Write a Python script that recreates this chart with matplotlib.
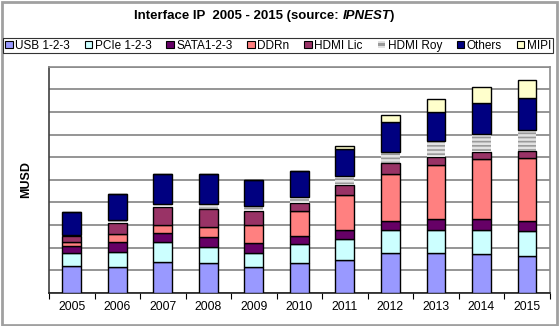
import matplotlib
matplotlib.use("Agg")
import matplotlib.pyplot as plt
from matplotlib.patches import Patch, Rectangle
import numpy as np

plt.rcParams['font.family'] = ['Liberation Sans', 'DejaVu Sans']

years = ['2005', '2006', '2007', '2008', '2009', '2010',
         '2011', '2012', '2013', '2014', '2015']

# MUSD per segment
usb = [59, 58, 68, 65, 56, 65, 72, 89, 87, 86, 81]
pcie = [28, 32, 44, 37, 33, 42, 46, 49, 52, 53, 55]
sata = [17, 22, 20, 21, 20, 18, 21, 20, 24, 24, 23]
ddr = [9, 18, 19, 23, 40, 56, 78, 104, 120, 133, 140]
hdmi_lic = [13, 25, 38, 40, 32, 18, 21, 25, 18, 15, 14]
hdmi_roy = [1, 5, 7, 10, 11, 13, 21, 24, 35, 41, 48]
others = [52, 58, 66, 66, 57, 58, 59, 66, 65, 69, 69]
mipi = [0, 0, 0, 0, 0, 0, 6, 17, 27, 34, 40]

series = [
    ('USB 1-2-3', usb, '#9999ff'),
    ('PCIe 1-2-3', pcie, '#ccffff'),
    ('SATA1-2-3', sata, '#660066'),
    ('DDRn', ddr, '#ff8080'),
    ('HDMI Lic', hdmi_lic, '#993366'),
    ('HDMI Roy', hdmi_roy, '#9a9a9a'),
    ('Others', others, '#000080'),
    ('MIPI', mipi, '#ffffcc'),
]

plt.rcParams['hatch.linewidth'] = 1.8

fig = plt.figure(figsize=(5.59, 3.26), dpi=100)
ax = fig.add_axes([0.0877, 0.102, 0.8955, 0.693])

x = np.arange(len(years))
bottom = np.zeros(len(years))
handles = []
for name, vals, col in series:
    vals = np.array(vals, dtype=float)
    if name == 'HDMI Roy':
        ax.bar(x, vals, 0.41, bottom=bottom, color=col, edgecolor='#e2e2e2',
               linewidth=0, hatch='----', zorder=3)
        handles.append(Patch(facecolor=col, edgecolor='#e2e2e2', hatch='---',
                             linewidth=0, label=name))
    else:
        ax.bar(x, vals, 0.41, bottom=bottom, color=col, edgecolor='black',
               linewidth=1.0, zorder=3)
        handles.append(Patch(facecolor=col, edgecolor='black', linewidth=0.8,
                             label=name))
    bottom += vals

ax.set_xlim(-0.5, 10.5)
ax.set_ylim(0, 500)
ax.set_yticks(np.arange(0, 501, 50))
ax.set_yticklabels([])
ax.tick_params(axis='y', length=0)
ax.yaxis.grid(True, color='#8c8c8c', linewidth=1.3, zorder=0)
ax.set_axisbelow(True)

ax.set_xticks(x)
ax.set_xticklabels(years, fontsize=8.8)
ax.set_xticks(np.arange(-0.5, 11, 1), minor=True)
ax.tick_params(axis='x', which='major', length=0, pad=6)
ax.tick_params(axis='x', which='minor', length=4, width=0.8, direction='out')

ax.spines['left'].set_color('#404040')
ax.spines['bottom'].set_color('#202020')
ax.spines['top'].set_color('#8c8c8c')
ax.spines['right'].set_color('#8c8c8c')
for s in ax.spines.values():
    s.set_linewidth(1.2)

ax.set_ylabel('MUSD', fontsize=9, fontweight='bold', labelpad=9)

# title: bold text with bold italic source name
renderer = fig.canvas.get_renderer()
t1 = fig.text(0.24, 0.952, 'Interface IP  2005 - 2015 (source: ', fontsize=9.5,
              fontweight='bold', va='center', ha='left')
bb = t1.get_window_extent(renderer=renderer)
x2 = bb.x1 / fig.bbox.width
t2 = fig.text(x2, 0.952, 'IPNEST', fontsize=9.5, fontweight='bold',
              style='italic', va='center', ha='left')
bb2 = t2.get_window_extent(renderer=renderer)
fig.text(bb2.x1 / fig.bbox.width, 0.952, ')', fontsize=9.5, fontweight='bold',
         va='center', ha='left')

leg = fig.legend(handles=handles, loc='lower left', ncol=8, mode='expand',
                 bbox_to_anchor=(0.006, 0.836, 0.983, 0.047),
                 fontsize=8.5, frameon=True, fancybox=False,
                 handlelength=0.65, handleheight=0.65, handletextpad=0.2,
                 columnspacing=0.8, borderpad=0.15, borderaxespad=0)
leg.get_frame().set_edgecolor('black')
leg.get_frame().set_linewidth(0.8)

fig.patches.append(Rectangle((0.003, 0.004), 0.993, 0.991, transform=fig.transFigure,
                             fill=False, edgecolor='#a0a0a0', linewidth=2))

fig.savefig('out.png', dpi=100)
